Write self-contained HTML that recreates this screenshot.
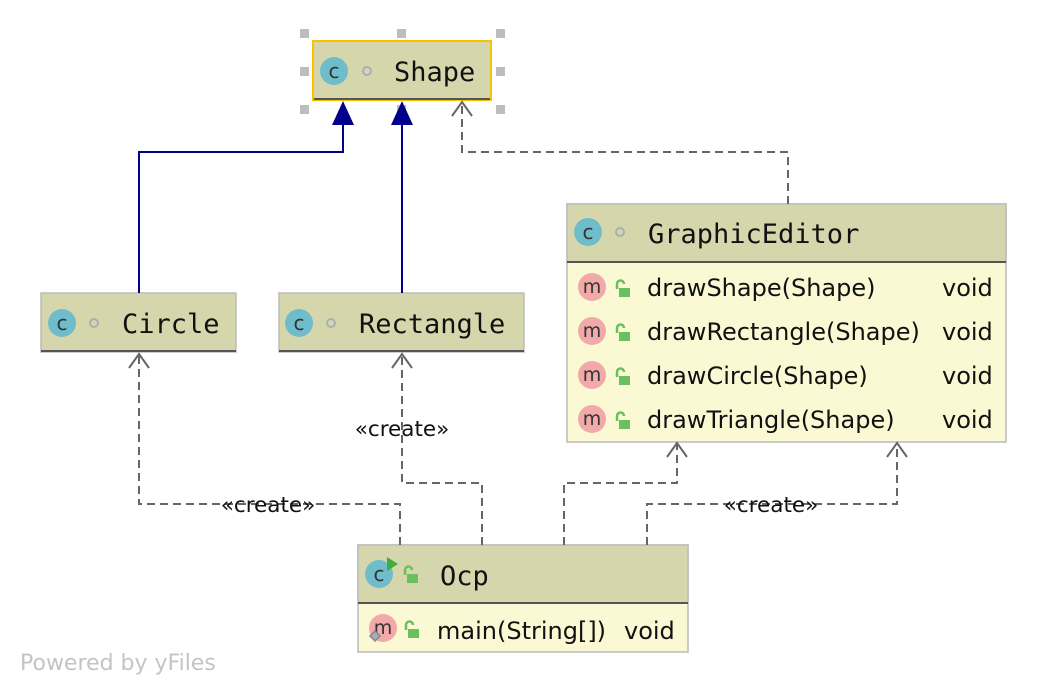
<!DOCTYPE html>
<html><head><meta charset="utf-8"><style>
html,body{margin:0;padding:0;background:#fff;}
svg{display:block;}
.mono{font-family:"DejaVu Sans Mono","Liberation Mono",monospace;font-size:27px;fill:#111;}
.sans{font-family:"DejaVu Sans","Liberation Sans",sans-serif;font-size:24px;fill:#111;}
.lbl{font-family:"DejaVu Sans","Liberation Sans",sans-serif;font-size:21.5px;fill:#111;}
.mi{font-family:"DejaVu Sans","Liberation Sans",sans-serif;fill:#333;}
</style></head><body>
<svg width="1048" height="694" viewBox="0 0 1048 694" xmlns="http://www.w3.org/2000/svg">
<defs>
<g id="cicon"><circle r="14" fill="#6fbccb"/><text x="0" y="7" text-anchor="middle" class="mi" style="font-size:20px">c</text></g>
<g id="micon"><circle r="14" fill="#f2a9a9"/><text x="0" y="6" text-anchor="middle" class="mi" style="font-size:19px">m</text></g>
<g id="lock"><rect x="-3" y="-1" width="11" height="9" fill="#6abf5e"/><path d="M-5 0 v-5 a3.5 3.5 0 0 1 7 0" fill="none" stroke="#6abf5e" stroke-width="2.5"/></g>
<g id="dot"><circle r="4" fill="none" stroke="#a9b0b3" stroke-width="2"/></g>
</defs>

<g fill="#bdbdbd">
<rect x="300" y="29" width="9" height="9"/><rect x="397" y="29" width="9" height="9"/><rect x="496" y="29" width="9" height="9"/>
<rect x="300" y="67" width="9" height="9"/><rect x="496" y="67" width="9" height="9"/>
<rect x="300" y="105" width="9" height="9"/><rect x="397" y="105" width="9" height="9"/><rect x="496" y="105" width="9" height="9"/>
</g>

<rect x="313" y="41" width="178" height="59" fill="#d6d6ad" stroke="#f5c400" stroke-width="2"/>
<line x1="314" y1="99" x2="490" y2="99" stroke="#555" stroke-width="2"/>
<use href="#cicon" x="334" y="71"/><use href="#dot" x="367" y="71"/>
<text x="394" y="81" class="mono">Shape</text>

<rect x="41" y="293" width="195" height="59" fill="#d6d6ad" stroke="#bbb" stroke-width="1.5"/>
<line x1="41" y1="351" x2="236" y2="351" stroke="#555" stroke-width="2"/>
<use href="#cicon" x="62" y="323"/><use href="#dot" x="94" y="323"/>
<text x="122" y="333" class="mono">Circle</text>

<rect x="279" y="293" width="245" height="59" fill="#d6d6ad" stroke="#bbb" stroke-width="1.5"/>
<line x1="279" y1="351" x2="524" y2="351" stroke="#555" stroke-width="2"/>
<use href="#cicon" x="299" y="323"/><use href="#dot" x="331" y="323"/>
<text x="359" y="333" class="mono">Rectangle</text>

<rect x="567" y="204" width="439" height="238" fill="#fbf9d3" stroke="#bbb" stroke-width="1.5"/>
<rect x="567" y="204" width="439" height="58" fill="#d6d6ad" stroke="#bbb" stroke-width="1.5"/>
<line x1="567" y1="262" x2="1006" y2="262" stroke="#555" stroke-width="2"/>
<use href="#cicon" x="588" y="232"/><use href="#dot" x="620" y="232"/>
<text x="648" y="243" class="mono">GraphicEditor</text>
<use href="#micon" x="592" y="287"/><use href="#lock" x="622" y="289"/>
<text x="647" y="296" class="sans">drawShape(Shape)</text><text x="942" y="296" class="sans">void</text>
<use href="#micon" x="592" y="331"/><use href="#lock" x="622" y="333"/>
<text x="647" y="340" class="sans">drawRectangle(Shape)</text><text x="942" y="340" class="sans">void</text>
<use href="#micon" x="592" y="375"/><use href="#lock" x="622" y="377"/>
<text x="647" y="384" class="sans">drawCircle(Shape)</text><text x="942" y="384" class="sans">void</text>
<use href="#micon" x="592" y="419"/><use href="#lock" x="622" y="421"/>
<text x="647" y="428" class="sans">drawTriangle(Shape)</text><text x="942" y="428" class="sans">void</text>

<rect x="358" y="545" width="330" height="107" fill="#fbf9d3" stroke="#bbb" stroke-width="1.5"/>
<rect x="358" y="545" width="330" height="58" fill="#d6d6ad" stroke="#bbb" stroke-width="1.5"/>
<line x1="358" y1="603" x2="688" y2="603" stroke="#555" stroke-width="2"/>
<use href="#cicon" x="379" y="574"/><path d="M387 557 l11 7 l-11 7z" fill="#3fae3f"/><use href="#lock" x="410" y="575"/>
<text x="440" y="585" class="mono">Ocp</text>
<use href="#micon" x="383" y="628"/><path d="M370 636 l5 -5 l5 5 l-5 5z" fill="#aab" stroke="#888" stroke-width="1.5"/><use href="#lock" x="411" y="630"/>
<text x="437" y="639" class="sans">main(String[])</text><text x="624" y="639" class="sans">void</text>

<g stroke="#00008b" stroke-width="2" fill="none">
<polyline points="139,293 139,152 343,152 343,122"/>
<line x1="402" y1="293" x2="402" y2="122"/>
</g>
<g fill="#00008b">
<path d="M343 101 l-11 24 h22z"/><path d="M402 101 l-11 24 h22z"/>
</g>

<g stroke="#666" stroke-width="2" fill="none" stroke-dasharray="8,5">
<polyline points="788,204 788,152 462,152 462,103"/>
<polyline points="400,545 400,504 139,504 139,355"/>
<polyline points="482,545 482,483 402,483 402,355"/>
<polyline points="564,545 564,483 677,483 677,445"/>
<polyline points="647,545 647,504 897,504 897,445"/>
</g>
<g stroke="#666" stroke-width="2" fill="none">
<polyline points="452,116 462,102 472,116"/>
<polyline points="129,368 139,354 149,368"/>
<polyline points="392,368 402,354 412,368"/>
<polyline points="667,457 677,443 687,457"/>
<polyline points="887,457 897,443 907,457"/>
</g>
<text x="268" y="512" class="lbl" text-anchor="middle">«create»</text>
<text x="402" y="436" class="lbl" text-anchor="middle">«create»</text>
<text x="771" y="512" class="lbl" text-anchor="middle">«create»</text>

<text x="20" y="670" style="font-family:'DejaVu Sans','Liberation Sans',sans-serif;font-size:22px;fill:#c4c4c4">Powered by yFiles</text>
</svg>
</body></html>
